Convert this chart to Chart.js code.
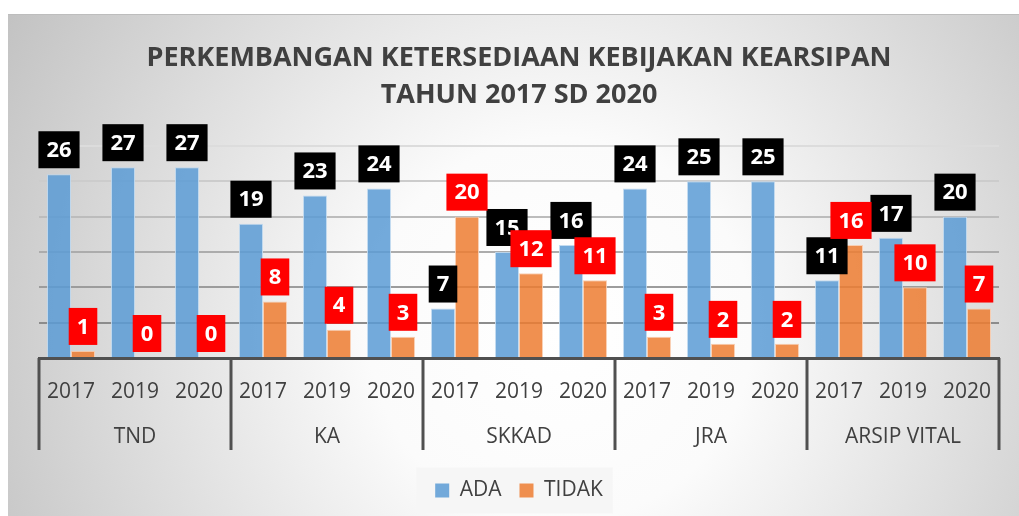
<!DOCTYPE html>
<html>
<head>
<meta charset="utf-8">
<script src="https://cdn.jsdelivr.net/npm/chart.js@4.4.1/dist/chart.umd.min.js"></script>
<style>
  body { margin: 0; background: #fff; }
  #wrap { width: 1019px; height: 516px; }
</style>
</head>
<body>
<div id="wrap"><canvas id="chart"></canvas></div>
<script>
const groups = ['TND', 'KA', 'SKKAD', 'JRA', 'ARSIP VITAL'];
const years = ['2017', '2019', '2020'];
const ada = [26, 27, 27, 19, 23, 24, 7, 15, 16, 24, 25, 25, 11, 17, 20];
const tidak = [1, 0, 0, 8, 4, 3, 20, 12, 11, 3, 2, 2, 16, 10, 7];
const titleLines = ['PERKEMBANGAN KETERSEDIAAN KEBIJAKAN KEARSIPAN', 'TAHUN 2017 SD 2020'];
const labelBoxColors = ['#000000', '#ff0000'];

const FONT = "'Open Sans', sans-serif";
const TEXT = '#404040';
const labels = groups.flatMap(() => years);

// grid lines fade from dark at the bottom to light at the top
function gridColor(ctx) {
    const v = ctx.tick ? ctx.tick.value : 0;
    const t = Math.min(Math.max((v - 5) / 25, 0), 1);
    const c = Math.round(0x8c + (0xdc - 0x8c) * t);
    return `rgb(${c}, ${c}, ${c})`;
}

const background = {
    id: 'background',
    beforeDraw(chart) {
        const {ctx, width, height} = chart;
        ctx.save();
        ctx.fillStyle = '#fff';
        ctx.fillRect(0, 0, width, height);
        const g = ctx.createRadialGradient(560, 330, 0, 560, 330, 640);
        g.addColorStop(0, '#ffffff');
        g.addColorStop(0.3, '#fbfbfb');
        g.addColorStop(1, '#c2c2c2');
        ctx.fillStyle = g;
        ctx.fillRect(8, 14, width - 8, height - 14);
        ctx.fillStyle = '#bdbdbd';
        ctx.fillRect(8, 14, width - 8, 1);

        const hb = chart.legend.legendHitBoxes;
        if (hb && hb.length) {
            const first = hb[0], last = hb[hb.length - 1];
            const cy = first.top + first.height / 2;
            ctx.fillStyle = 'rgba(246, 246, 246, 0.95)';
            ctx.fillRect(first.left - 19, cy - 23, last.left + last.width + 10 - (first.left - 19), 46);
        }
        ctx.restore();
    }
};

const groupLines = {
    id: 'groupLines',
    afterDraw(chart) {
        const {ctx} = chart;
        const x2 = chart.scales.x2;
        ctx.save();
        ctx.strokeStyle = '#505050';
        ctx.lineWidth = 3;
        for (let g = 0; g <= groups.length; g++) {
            const px = Math.round(x2.getPixelForValue(g - 0.5));
            ctx.beginPath();
            ctx.moveTo(px, chart.chartArea.bottom);
            ctx.lineTo(px, 450);
            ctx.stroke();
        }
        ctx.restore();
    }
};

const boxLabels = {
    id: 'boxLabels',
    afterDatasetsDraw(chart) {
        const {ctx} = chart;
        ctx.save();
        ctx.font = `bold 22px ${FONT}`;
        ctx.textAlign = 'center';
        ctx.textBaseline = 'middle';
        chart.data.datasets.forEach((ds, i) => {
            const meta = chart.getDatasetMeta(i);
            meta.data.forEach((bar, j) => {
                const txt = String(ds.data[j]);
                const w = ctx.measureText(txt).width + 16;
                const h = 37;
                const bottom = bar.y - 6;
                ctx.fillStyle = labelBoxColors[i];
                ctx.fillRect(bar.x - w / 2, bottom - h, w, h);
                ctx.fillStyle = '#fff';
                ctx.fillText(txt, bar.x, bottom - h / 2 + 1);
            });
        });
        ctx.restore();
    }
};

new Chart(document.getElementById('chart'), {
    type: 'bar',
    data: {
        labels: labels,
        datasets: [
            {
                label: 'ADA',
                data: ada,
                backgroundColor: 'rgba(91, 155, 213, 0.85)',
                borderColor: 'rgba(189, 215, 238, 0.9)',
                borderWidth: (c) => (c.raw ? 1 : 0),
            },
            {
                label: 'TIDAK',
                data: tidak,
                backgroundColor: 'rgba(237, 125, 49, 0.85)',
                borderColor: 'rgba(248, 203, 173, 0.9)',
                borderWidth: (c) => (c.raw ? 1 : 0),
            },
        ],
    },
    options: {
        responsive: true,
        maintainAspectRatio: false,
        animation: false,
        categoryPercentage: 0.75,
        barPercentage: 1,
        layout: { padding: { left: 39, right: 20, top: 0, bottom: 5 } },
        scales: {
            x: {
                grid: { display: false, drawTicks: false },
                border: { display: true, color: '#505050', width: 3 },
                ticks: { color: TEXT, font: { family: FONT, size: 21 }, padding: 21, maxRotation: 0, autoSkip: false },
                afterFit(scale) { scale.height = 48; },
            },
            x2: {
                type: 'category',
                labels: groups,
                offset: true,
                position: 'bottom',
                grid: { display: false, drawTicks: false },
                border: { display: false },
                ticks: { color: TEXT, font: { family: FONT, size: 21 }, padding: 18, maxRotation: 0, autoSkip: false },
                afterFit(scale) { scale.height = 56; },
            },
            y: {
                min: 0,
                max: 30,
                ticks: { display: false, stepSize: 5 },
                grid: { color: gridColor, lineWidth: 2, drawTicks: false },
                border: { display: false },
            },
        },
        plugins: {
            title: {
                display: true,
                text: titleLines,
                color: TEXT,
                font: { family: FONT, size: 27, weight: 'bold', lineHeight: 1.37 },
                padding: { top: 40, bottom: 32 },
            },
            legend: {
                position: 'bottom',
                fullSize: false,
                labels: {
                    color: TEXT,
                    font: { family: FONT, size: 21 },
                    boxWidth: 14,
                    boxHeight: 14,
                    padding: 18,
                    generateLabels(chart) {
                        return Chart.defaults.plugins.legend.labels.generateLabels(chart)
                            .map(l => ({ ...l, lineWidth: 0 }));
                    },
                },
            },
            tooltip: { enabled: false },
        },
    },
    plugins: [background, groupLines, boxLabels],
});
</script>
</body>
</html>
